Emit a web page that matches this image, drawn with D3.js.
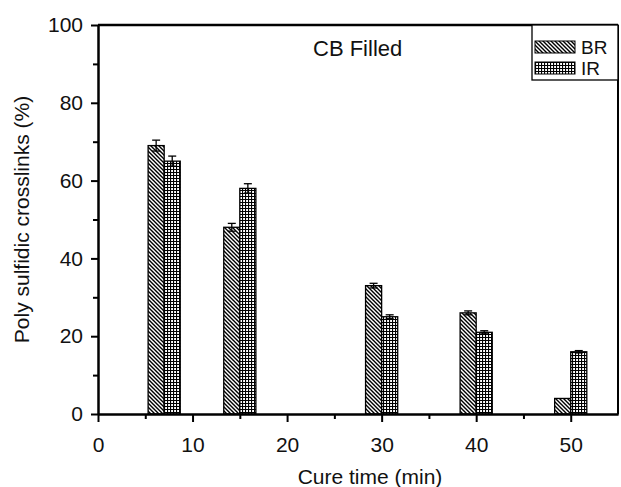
<!DOCTYPE html>
<html>
<head>
<meta charset="utf-8">
<script src="https://cdnjs.cloudflare.com/ajax/libs/d3/7.8.5/d3.min.js"></script>
<style>
  body { margin: 0; background: #fff; }
  svg { display: block; font-family: "Liberation Sans", Arial, sans-serif; }
</style>
</head>
<body>
<div id="chart"></div>
<script>
// data
const cureTime = [7, 15, 30, 40, 50]
const brValues = [69, 48, 33, 26, 4]
const irValues = [65, 58, 25, 21, 16]
const brErr = [1.4, 1.0, 0.6, 0.5, 0]
const irErr = [1.3, 1.2, 0.5, 0.4, 0.3]
const seriesNames = ["BR", "IR"]
const xMajorTicks = [0, 10, 20, 30, 40, 50]
const xMinorTicks = [5, 15, 25, 35, 45]
const yMajorTicks = [0, 20, 40, 60, 80, 100]
const yMinorTicks = [10, 30, 50, 70, 90]

const width = 621
const height = 487
const margin = {top: 25, right: 3, bottom: 73, left: 98}
const innerW = width - margin.left - margin.right
const innerH = height - margin.top - margin.bottom
const barWidth = 1.7 // in minutes

const svg = d3.select("#chart")
  .append("svg")
    .attr("width", width)
    .attr("height", height)

// hatch patterns
const defs = svg.append("defs")
const diag = defs.append("pattern")
    .attr("id", "hatchBR")
    .attr("patternUnits", "userSpaceOnUse")
    .attr("width", 4)
    .attr("height", 4)
diag.append("rect").attr("width", 4).attr("height", 4).attr("fill", "#fff")
diag.append("path")
    .attr("d", "M-1,-1 L5,5 M-1,3 L1,5 M3,-1 L5,1")
    .attr("stroke", "#000")
    .attr("stroke-width", 1.4)

const grid = defs.append("pattern")
    .attr("id", "hatchIR")
    .attr("patternUnits", "userSpaceOnUse")
    .attr("width", 3)
    .attr("height", 3)
grid.append("rect").attr("width", 3).attr("height", 3).attr("fill", "#fff")
grid.append("path")
    .attr("d", "M0,0.5 H3 M0.5,0 V3")
    .attr("stroke", "#000")
    .attr("stroke-width", 1.2)

const fills = {BR: "url(#hatchBR)", IR: "url(#hatchIR)"}

const g = svg.append("g")
    .attr("transform", `translate(${margin.left},${margin.top})`)

const x = d3.scaleLinear().domain([0, 55]).range([0, innerW])
const y = d3.scaleLinear().domain([0, 100]).range([innerH, 0])

// build rows for both series
const rows = []
cureTime.forEach((t, i) => {
  rows.push({name: "BR", t: t, value: brValues[i], err: brErr[i], offset: -barWidth})
  rows.push({name: "IR", t: t, value: irValues[i], err: irErr[i], offset: 0})
})

// bars
g.selectAll("rect.bar")
  .data(rows)
  .join("rect")
    .attr("class", "bar")
    .attr("x", d => x(d.t + d.offset))
    .attr("y", d => y(d.value))
    .attr("width", d => x(d.t + d.offset + barWidth) - x(d.t + d.offset))
    .attr("height", d => y(0) - y(d.value))
    .attr("fill", d => fills[d.name])
    .attr("stroke", "#000")
    .attr("stroke-width", 1.3)

// error bars
const errRows = rows.filter(d => d.err > 0)
const errG = g.selectAll("g.err")
  .data(errRows)
  .join("g")
    .attr("class", "err")
    .attr("transform", d => `translate(${x(d.t + d.offset + barWidth / 2)},0)`)
errG.append("line")
    .attr("y1", d => y(d.value + d.err))
    .attr("y2", d => y(d.value - d.err))
    .attr("stroke", "#000")
    .attr("stroke-width", 1.3)
errG.append("line")
    .attr("x1", -4).attr("x2", 4)
    .attr("y1", d => y(d.value + d.err))
    .attr("y2", d => y(d.value + d.err))
    .attr("stroke", "#000")
    .attr("stroke-width", 1.3)
errG.append("line")
    .attr("x1", -4).attr("x2", 4)
    .attr("y1", d => y(d.value - d.err))
    .attr("y2", d => y(d.value - d.err))
    .attr("stroke", "#000")
    .attr("stroke-width", 1.3)

// axes
g.append("g")
    .attr("transform", `translate(0,${innerH})`)
    .call(d3.axisBottom(x).tickValues(xMajorTicks).tickSize(8).tickPadding(15).tickSizeOuter(0))
g.append("g")
    .attr("transform", `translate(0,${innerH})`)
    .call(d3.axisBottom(x).tickValues(xMinorTicks).tickSize(5).tickFormat("").tickSizeOuter(0))

g.append("g")
    .call(d3.axisLeft(y).tickValues(yMajorTicks).tickSize(7).tickPadding(8).tickSizeOuter(0))
g.append("g")
    .call(d3.axisLeft(y).tickValues(yMinorTicks).tickSize(5).tickFormat("").tickSizeOuter(0))

g.selectAll(".domain").attr("stroke-width", 2)
g.selectAll(".tick line").attr("stroke-width", 2)
g.selectAll(".tick text")
    .style("font-size", "21px")
    .style("font-family", "'Liberation Sans', Arial, sans-serif")
    .attr("fill", "#111")

// frame top and right
g.append("line")
    .attr("x1", 0).attr("x2", innerW)
    .attr("y1", 0).attr("y2", 0)
    .attr("stroke", "#000").attr("stroke-width", 2.5)
g.append("line")
    .attr("x1", innerW).attr("x2", innerW)
    .attr("y1", 0).attr("y2", innerH)
    .attr("stroke", "#000").attr("stroke-width", 2)

// axis titles
svg.append("text")
    .attr("x", 370)
    .attr("y", 484)
    .attr("text-anchor", "middle")
    .style("font-size", "21px")
    .attr("fill", "#111")
    .text("Cure time (min)")

svg.append("text")
    .attr("transform", `translate(29,${margin.top + innerH / 2}) rotate(-90)`)
    .attr("text-anchor", "middle")
    .style("font-size", "21px")
    .attr("fill", "#111")
    .text("Poly sulfidic crosslinks (%)")

// annotation
svg.append("text")
    .attr("x", 313)
    .attr("y", 56)
    .style("font-size", "22px")
    .attr("fill", "#111")
    .text("CB Filled")

// legend
const legend = svg.append("g")
legend.append("rect")
    .attr("x", 532).attr("y", margin.top)
    .attr("width", 618 - 532).attr("height", 55)
    .attr("fill", "#fff")
    .attr("stroke", "#000")
    .attr("stroke-width", 1.3)
const items = legend.selectAll("g.item")
  .data(seriesNames)
  .join("g")
    .attr("class", "item")
    .attr("transform", (d, i) => `translate(535,${41 + i * 21})`)
items.append("rect")
    .attr("width", 40).attr("height", 12)
    .attr("fill", d => fills[d])
    .attr("stroke", "#000")
    .attr("stroke-width", 1)
items.append("text")
    .attr("x", 46)
    .attr("y", 13)
    .style("font-size", "19px")
    .attr("fill", "#111")
    .text(d => d)
</script>
</body>
</html>
